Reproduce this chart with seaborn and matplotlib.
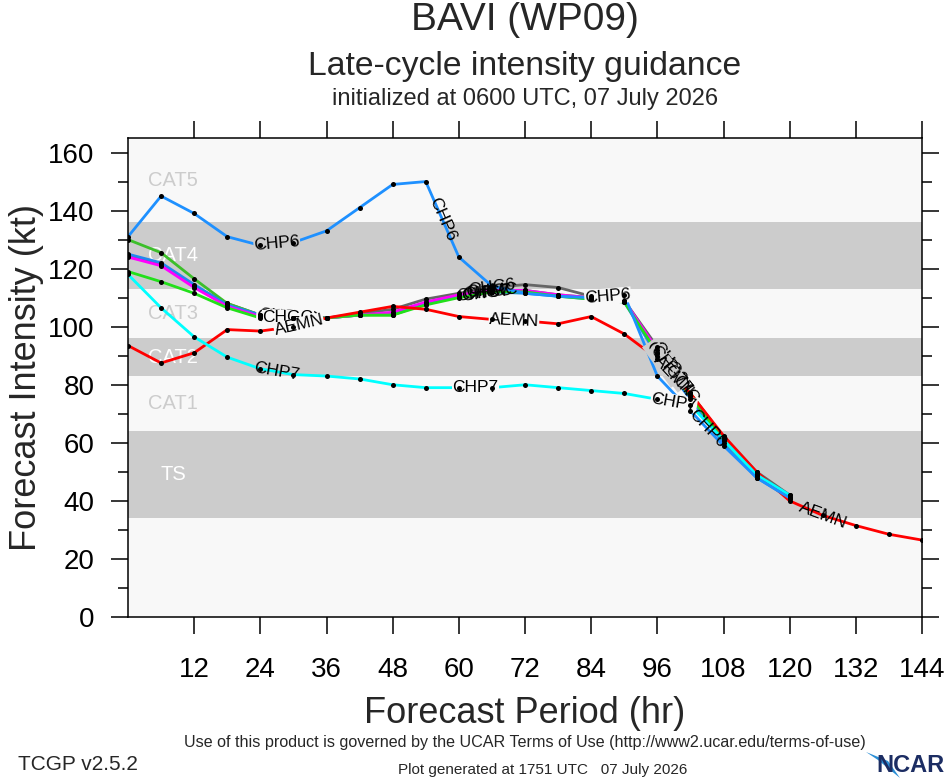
import numpy as np
import pandas as pd
import matplotlib
matplotlib.use("Agg")
import matplotlib.pyplot as plt
from matplotlib.patches import Polygon
import seaborn as sns

# forecast hours
hours = list(range(0, 121, 6))
hours_long = list(range(0, 145, 6))

# intensity guidance (kt)
chc6 = [124.5, 121.5, 114, 108, 104, 103, 103, 104.5, 106, 109.5, 111.5, 113.5, 114.5, 113.5, 110.5, 109, 93, 77, 62, 50, 42]
chc7 = [130, 125.5, 116.5, 108, 104, 103, 103, 104, 104, 108, 111, 112, 112.5, 111, 110, 109, 91, 77, 62, 49, 41]
chpc = [125, 122, 114.5, 107.5, 104, 103, 103, 104, 104.5, 108, 110.5, 112, 111.5, 110.5, 109.5, 108.5, 90, 75, 60, 48, 41]
chmc = [124, 121, 113.5, 107, 103.5, 103, 103, 104, 105, 108.5, 111, 112.5, 112.5, 111, 110, 109, 92, 76, 61, 49, 41]
chgc = [119, 115.5, 111.5, 106.5, 103, 103, 103, 104, 104, 107.5, 110, 112, 112, 110.5, 109.5, 108.5, 91, 76, 61, 49, 41]
chp6 = [131, 145, 139, 131, 128, 129, 133, 141, 149, 150, 124, 114, 111.5, 110.5, 110, 111, 83, 71, 59, 48, 41]
chp7 = [118, 106.5, 96.5, 89.5, 85.5, 83.5, 83, 82, 80, 79, 79, 79, 80, 79, 78, 77, 75, 73, 61, 49, 42]
aemn = [93.5, 87.5, 91, 99, 98.5, 100, 103, 105, 107, 106, 103.5, 102.5, 102, 101, 103.5, 97.5, 89, 77, 62.5, 50, 40, 35, 31.5, 28.5, 26.5]

models = ["CHC6", "CHC7", "CHPC", "CHMC", "CHGC", "AEMN", "CHP7", "CHP6"]
series = [chc6, chc7, chpc, chmc, chgc, aemn, chp7, chp6]
colors = ["#666666", "#3cbf2a", "#2288ee", "#ff00ff", "#22e01a", "#ff0000", "#00ffff", "#1e90ff"]
# where the model names sit along each line (hr)
label_hours = [[29, 66, 98], [28, 65, 99], [30, 64, 97], [28, 66, 100], [29, 65, 98],
               [31, 70, 99, 126], [27, 63, 99], [27, 57, 87, 105]]

# Saffir-Simpson style background
band_lo = [34, 83, 113]
band_hi = [64, 96, 136]
cat_names = ["TS", "CAT1", "CAT2", "CAT3", "CAT4", "CAT5"]
cat_mid = [49, 73.5, 89.5, 104.5, 124.5, 150.5]
cat_colors = ["white", "#cccccc", "white", "#cccccc", "white", "#cccccc"]

rows = []
for name, vals in zip(models, series):
    hh = hours_long if len(vals) == len(hours_long) else hours
    for h, v in zip(hh, vals):
        rows.append((name, h, v))
df = pd.DataFrame(rows, columns=["model", "hour", "kt"])

sns.set_theme(style="ticks")
plt.rcParams["font.family"] = ["Liberation Sans", "DejaVu Sans"]

fig = plt.figure(figsize=(9.46, 7.8), dpi=100)
ax = fig.add_axes([128 / 946, 1 - 617 / 780, 794 / 946, 479 / 780])
ax.set_facecolor("#f8f8f8")
ax.set_xlim(0, 144)
ax.set_ylim(0, 165)

for lo, hi in zip(band_lo, band_hi):
    ax.axhspan(lo, hi, color="#cccccc", lw=0, zorder=0)
for name, y, c in zip(cat_names, cat_mid, cat_colors):
    ax.text(8.2, y, name, color=c, fontsize=14.5, ha="center", va="center", zorder=1)

sns.lineplot(data=df, x="hour", y="kt", hue="model", hue_order=models,
             palette=dict(zip(models, colors)), linewidth=2, legend=False,
             estimator=None, sort=False, ax=ax, zorder=2)
sns.scatterplot(data=df, x="hour", y="kt", color="black", s=13, linewidth=0,
                legend=False, ax=ax, zorder=5)


def bg_at(y):
    # colour behind a line label, None near a band edge
    for lo, hi in zip(band_lo, band_hi):
        if min(abs(y - lo), abs(y - hi)) < 2.5:
            return None
        if lo < y < hi:
            return "#cccccc"
    return "#f8f8f8"


for name, vals, lh in zip(models, series, label_hours):
    hh = hours_long if len(vals) == len(hours_long) else hours
    for h in lh:
        y = np.interp(h, hh, vals)
        p1 = ax.transData.transform((h - 2, np.interp(h - 2, hh, vals)))
        p2 = ax.transData.transform((h + 2, np.interp(h + 2, hh, vals)))
        ang = np.degrees(np.arctan2(p2[1] - p1[1], p2[0] - p1[0]))
        fc = bg_at(y)
        box = dict(boxstyle="square,pad=0.02", fc=fc, ec="none") if fc else None
        ax.text(h, y, name, fontsize=12.5, rotation=ang, rotation_mode="anchor",
                ha="center", va="center", color="black", zorder=4, bbox=box)

ax.set_xticks(range(12, 145, 12))
ax.set_yticks(range(0, 161, 20))
ax.set_yticks(range(10, 165, 20), minor=True)
ax.tick_params(which="both", direction="out", top=True, right=True, colors="black",
               labelsize=20, width=1.1)
ax.tick_params(axis="x", pad=17)
ax.tick_params(axis="y", pad=12)
ax.tick_params(which="major", length=12)
ax.tick_params(which="minor", length=7)
for s in ax.spines.values():
    s.set_linewidth(1.1)
    s.set_color("black")
ax.set_xlabel("Forecast Period (hr)", fontsize=26, labelpad=9)
ax.set_ylabel("Forecast Intensity (kt)", fontsize=26, labelpad=3)

cx = 525 / 946
fig.text(cx, 1 - 30 / 780, "BAVI (WP09)", fontsize=28, ha="center", va="baseline")
fig.text(cx, 1 - 75 / 780, "Late-cycle intensity guidance", fontsize=24.3, ha="center", va="baseline")
fig.text(cx, 1 - 105 / 780, "initialized at 0600 UTC, 07 July 2026", fontsize=17, ha="center", va="baseline")

fig.text(525 / 946, 1 - 742 / 780,
         "Use of this product is governed by the UCAR Terms of Use (http://www2.ucar.edu/terms-of-use)",
         fontsize=11.6, ha="center", va="center")
fig.text(18 / 946, 1 - 765 / 780, "TCGP v2.5.2", fontsize=15, ha="left", va="center")
fig.text(543 / 946, 1 - 770 / 780, "Plot generated at 1751 UTC   07 July 2026", fontsize=11,
         ha="center", va="center")
fig.text(944 / 946, 1 - 766 / 780, "NCAR", fontsize=17, fontweight="bold",
         color="#1c2d63", ha="right", va="center")
fig.patches.append(Polygon([[866 / 946, 1 - 752 / 780], [888 / 946, 1 - 761 / 780],
                            [900 / 946, 1 - 778 / 780], [878 / 946, 1 - 760 / 780]],
                           closed=True, transform=fig.transFigure, fc="#2b8fd6", ec="none"))

fig.savefig("out.png", dpi=100)
